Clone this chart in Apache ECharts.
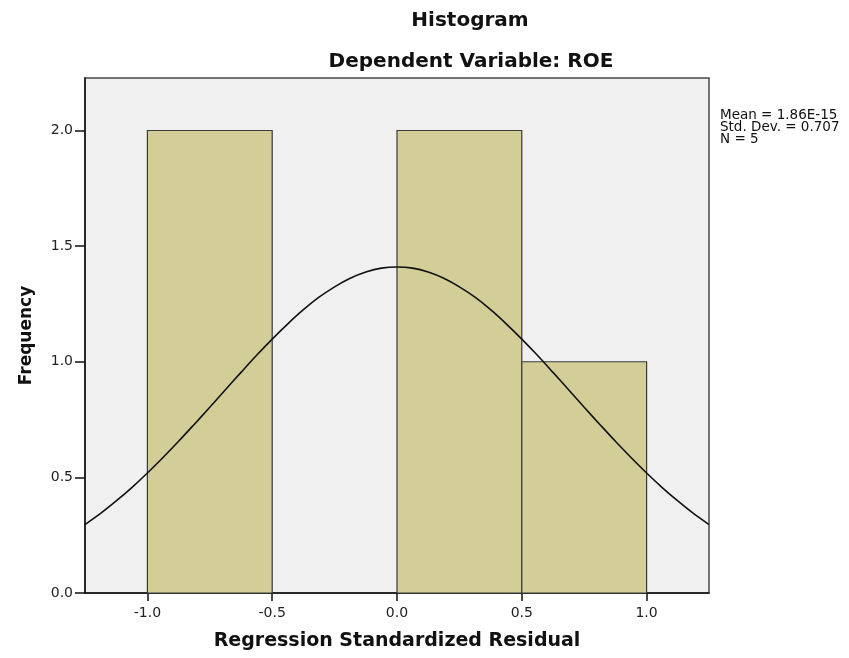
<html style="height: 100%">

<head>
    <meta charset="utf-8">
</head>

<body style="height: 100%; margin: 0; background: #fff">
    <div id="container" style="width: 849px; height: 658px"></div>

    <script type="text/javascript" src="https://cdn.jsdelivr.net/npm/echarts@6.0.0/dist/echarts.min.js"></script>

    <script type="text/javascript">
        var chartDom = document.getElementById('container');
        var myChart = echarts.init(chartDom);
        var option;

        // histogram bins: [from, to, frequency]
        var binStart = [-1.0, -0.5, 0.0, 0.5];
        var binEnd = [-0.5, 0.0, 0.5, 1.0];
        var binCount = [2, 0, 2, 1];

        // normal curve
        var curveX = [-1.25, -1.1875, -1.125, -1.0625, -1.0, -0.9375, -0.875, -0.8125, -0.75, -0.6875,
            -0.625, -0.5625, -0.5, -0.4375, -0.375, -0.3125, -0.25, -0.1875, -0.125, -0.0625, 0,
            0.0625, 0.125, 0.1875, 0.25, 0.3125, 0.375, 0.4375, 0.5, 0.5625, 0.625,
            0.6875, 0.75, 0.8125, 0.875, 0.9375, 1.0, 1.0625, 1.125, 1.1875, 1.25];
        var curveY = [0.296, 0.344, 0.398, 0.456, 0.519, 0.586, 0.656, 0.729, 0.803, 0.879,
            0.954, 1.028, 1.098, 1.164, 1.225, 1.279, 1.324, 1.361, 1.388, 1.405, 1.41,
            1.405, 1.388, 1.361, 1.324, 1.279, 1.225, 1.164, 1.098, 1.028, 0.954,
            0.879, 0.803, 0.729, 0.656, 0.586, 0.519, 0.456, 0.398, 0.344, 0.296];

        var xTicks = [-1.0, -0.5, 0.0, 0.5, 1.0];
        var yTicks = [0.0, 0.5, 1.0, 1.5, 2.0];

        var statsText = ['Mean = 1.86E-15', 'Std. Dev. = 0.707', 'N = 5'];

        var barData = [];
        for (var i = 0; i < binCount.length; i++) {
            barData.push([binStart[i], binEnd[i], binCount[i]]);
        }
        var lineData = [];
        for (var j = 0; j < curveX.length; j++) {
            lineData.push([curveX[j], curveY[j]]);
        }

        var font = 'DejaVu Sans, sans-serif';

        option = {
            backgroundColor: '#ffffff',
            animation: false,
            textStyle: { fontFamily: font },
            graphic: [{
                type: 'text',
                x: 470, y: 11,
                style: { text: 'Histogram', textAlign: 'center', font: 'bold 20px ' + font, fill: '#111' }
            }, {
                type: 'text',
                x: 471, y: 52,
                style: { text: 'Dependent Variable: ROE', textAlign: 'center', font: 'bold 20px ' + font, fill: '#111' }
            }, {
                type: 'text',
                x: 720, y: 109,
                style: { text: statsText.join('\n'), font: '13.5px ' + font, lineHeight: 12, fill: '#111' }
            }],
            grid: {
                left: 85, right: 140, top: 78, bottom: 65,
                show: true,
                backgroundColor: '#f0f0f0',
                borderColor: '#4a4a4a',
                borderWidth: 1.5
            },
            xAxis: {
                type: 'value',
                min: -1.25, max: 1.25,
                name: 'Regression Standardized Residual',
                nameLocation: 'middle',
                nameGap: 39,
                nameTextStyle: { fontSize: 19, fontWeight: 'bold', color: '#111', fontFamily: font },
                axisLine: { onZero: false, lineStyle: { color: '#111', width: 1.5 } },
                axisTick: { customValues: xTicks, length: 8, lineStyle: { color: '#111', width: 1.5 } },
                axisLabel: {
                    customValues: xTicks, margin: 13, fontSize: 14, color: '#222',
                    formatter: function (v) { return v.toFixed(1); }
                },
                splitLine: { show: false }
            },
            yAxis: {
                type: 'value',
                min: 0, max: 2.227,
                name: 'Frequency',
                nameLocation: 'middle',
                nameGap: 50,
                nameTextStyle: { fontSize: 17, fontWeight: 'bold', color: '#111', fontFamily: font },
                axisLine: { show: true, onZero: false, lineStyle: { color: '#111', width: 1.5 } },
                axisTick: { show: true, customValues: yTicks, length: 10, lineStyle: { color: '#111', width: 1.5 } },
                axisLabel: {
                    customValues: yTicks, margin: 12, fontSize: 14, color: '#222',
                    formatter: function (v) { return v.toFixed(1); }
                },
                splitLine: { show: false }
            },
            series: [{
                name: 'bins',
                type: 'custom',
                data: barData,
                encode: { x: [0, 1], y: 2 },
                renderItem: function (params, api) {
                    var p0 = api.coord([api.value(0), 0]);
                    var p1 = api.coord([api.value(1), api.value(2)]);
                    if (api.value(2) === 0) return null;
                    return {
                        type: 'rect',
                        shape: { x: p0[0], y: p1[1], width: p1[0] - p0[0], height: p0[1] - p1[1] },
                        style: { fill: '#d3ce98', stroke: '#3a3a3a', lineWidth: 1.2 }
                    };
                },
                z: 2
            }, {
                name: 'normal',
                type: 'line',
                data: lineData,
                smooth: 0.3,
                symbol: 'none',
                lineStyle: { color: '#111', width: 1.6 },
                z: 3
            }]
        };

        option && myChart.setOption(option);
    </script>
</body>

</html>
